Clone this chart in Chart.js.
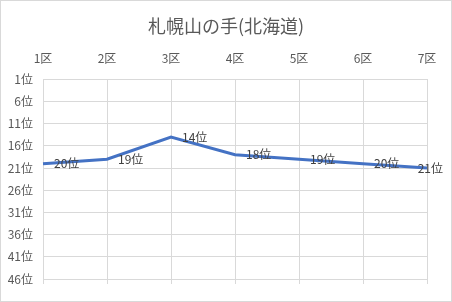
<!DOCTYPE html>
<html>
<head>
<meta charset="utf-8">
<script src="https://cdn.jsdelivr.net/npm/chart.js@4/dist/chart.umd.min.js"></script>
<style>
	body { margin: 0; background: #fff; }
	#wrap { width: 450px; height: 300px; border: 1px solid #d9d9d9; background: #fff; }
</style>
</head>
<body>
<div id="wrap"><canvas id="lineChart" width="450" height="300"></canvas></div>
<script>
	var chartTitle = '札幌山の手(北海道)';
	var categories = ['1区', '2区', '3区', '4区', '5区', '6区', '7区'];
	var ranks = [20, 19, 14, 18, 19, 20, 21];
	var rankTicks = [1, 6, 11, 16, 21, 26, 31, 36, 41, 46];

	var fontFamily = '"Noto Sans CJK JP", "Noto Sans", sans-serif';

	//title centred on the whole chart box (not the padded area)
	var chartTitlePlugin = {
		id: 'chartTitlePlugin',
		afterDraw: function(chart) {
			var ctx = chart.ctx;
			ctx.save();
			ctx.font = '18px ' + fontFamily;
			ctx.fillStyle = '#595959';
			ctx.textAlign = 'center';
			ctx.textBaseline = 'middle';
			ctx.fillText(chartTitle, chart.width / 2, 25);
			ctx.restore();
		}
	};

	//draws "xx位" to the right of each point
	var pointLabels = {
		id: 'pointLabels',
		afterDatasetsDraw: function(chart) {
			var ctx = chart.ctx;
			var meta = chart.getDatasetMeta(0);
			ctx.save();
			ctx.font = '12px ' + fontFamily;
			ctx.fillStyle = '#404040';
			ctx.textBaseline = 'middle';
			ctx.textAlign = 'left';
			meta.data.forEach(function(pt, i) {
				var txt = ranks[i] + '位';
				var w = ctx.measureText(txt).width;
				var x = Math.min(pt.x + 11, chart.width - w - 8);
				ctx.fillText(txt, x, pt.y);
			});
			ctx.restore();
		}
	};

	//small tick marks below the plot area
	var bottomTicks = {
		id: 'bottomTicks',
		beforeDatasetsDraw: function(chart) {
			var ctx = chart.ctx;
			var xs = chart.scales.x;
			var bottom = chart.chartArea.bottom;
			ctx.save();
			ctx.strokeStyle = '#d9d9d9';
			ctx.lineWidth = 1;
			for (var i = 0; i < categories.length; i++) {
				var x = Math.round(xs.getPixelForTick(i)) + 0.5;
				ctx.beginPath();
				ctx.moveTo(x, bottom);
				ctx.lineTo(x, bottom + 5);
				ctx.stroke();
			}
			ctx.restore();
		}
	};

	var lineChartData = {
		labels: categories,
		datasets: [{
			data: ranks,
			borderColor: '#4472c4',
			backgroundColor: '#4472c4',
			borderWidth: 3,
			pointRadius: 0,
			fill: false,
			tension: 0
		}]
	};

	var lineChartOptions = {
		responsive: false,
		animation: false,
		layout: { padding: { left: 0, right: 24, top: 36, bottom: 22 } },
		plugins: {
			legend: { display: false },
			tooltip: { enabled: false },
			title: { display: false }
		},
		scales: {
			x: {
				position: 'top',
				grid: { color: '#d9d9d9', drawTicks: false },
				border: { display: false },
				ticks: {
					color: '#595959',
					font: { family: fontFamily, size: 12 },
					padding: 14,
					maxRotation: 0
				}
			},
			y: {
				reverse: true,
				min: 1,
				max: 46,
				afterBuildTicks: function(scale) {
					scale.ticks = rankTicks.map(function(v) { return { value: v }; });
				},
				afterFit: function(scale) {
					scale.width = 42;
				},
				grid: { color: '#d9d9d9', drawTicks: false },
				border: { display: false },
				ticks: {
					color: '#595959',
					font: { family: fontFamily, size: 12 },
					padding: 10,
					callback: function(v) { return v + '位'; }
				}
			}
		}
	};

	var lineChart = new Chart(document.getElementById('lineChart').getContext('2d'), {
		type: 'line',
		data: lineChartData,
		options: lineChartOptions,
		plugins: [chartTitlePlugin, pointLabels, bottomTicks]
	});
</script>
</body>
</html>
